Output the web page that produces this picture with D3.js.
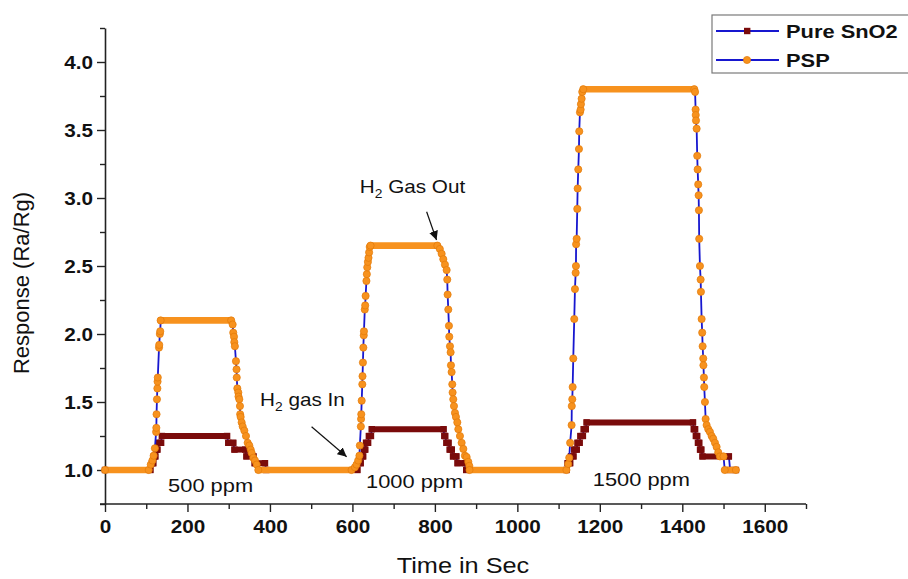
<!DOCTYPE html>
<html>
<head>
<meta charset="utf-8">
<script src="https://cdn.jsdelivr.net/npm/d3@7"></script>
<style>
  body { margin: 0; background: #fff; }
  text { font-family: "Liberation Sans", Arial, sans-serif; fill: #111; }
</style>
</head>
<body>
<svg id="chart" width="908" height="579"></svg>
<script>
// Gas response (Ra/Rg) of pure SnO2 and PSP sensors over three H2 exposure cycles

// Pure SnO2 response (stepped, 0.05 resolution)
const pureTime = [0, 110, 114, 117, 119, 122, 124, 127, 129, 136, 138, 296, 299, 311, 314, 340, 343, 360, 363, 388, 391, 612,
  614, 620, 622, 626, 628, 631, 633, 638, 640, 645, 647, 821, 823, 825, 828, 833, 836, 841, 844, 852, 855, 872, 876, 1119,
  1122, 1128, 1130, 1136, 1138, 1144, 1146, 1151, 1153, 1159, 1161, 1166, 1168, 1426, 1428, 1431, 1433, 1436, 1438, 1441,
  1443, 1446, 1449, 1513, 1516, 1530];
const pureResp = [1.00, 1.00, 1.05, 1.05, 1.10, 1.10, 1.15, 1.15, 1.20, 1.20, 1.25, 1.25, 1.20, 1.20, 1.15, 1.15, 1.10, 1.10, 1.05, 1.05, 1.00, 1.00,
  1.05, 1.05, 1.10, 1.10, 1.15, 1.15, 1.20, 1.20, 1.25, 1.25, 1.30, 1.30, 1.25, 1.25, 1.20, 1.20, 1.15, 1.15, 1.10, 1.10, 1.05, 1.05, 1.00, 1.00,
  1.05, 1.05, 1.10, 1.10, 1.15, 1.15, 1.20, 1.20, 1.25, 1.25, 1.30, 1.30, 1.35, 1.35, 1.30, 1.30, 1.25, 1.25, 1.20, 1.20,
  1.15, 1.15, 1.10, 1.10, 1.00, 1.00];

// PSP response
const pspTime = [0, 106, 111, 115, 118, 121, 124, 124.5, 125, 126, 127, 127.5, 128, 131, 131.5, 133, 134, 135, 306,
  309.6, 311, 312.8, 313.6, 315, 317.6, 319, 319.5, 320.9, 323.3, 323.8, 325.7, 327.3, 327.8, 329, 331.4, 333.9, 337.9,
  341.9, 346, 350, 353.3, 355.7, 359.7, 363.7, 367.8, 371.8, 598,
  606, 610, 614, 617, 618, 620.5, 621, 621.5, 622.5, 624, 624.5, 625.5, 626.5, 627.5, 628, 630, 631, 632, 634, 635, 636,
  637.5, 639, 640.5, 642, 644, 806,
  812, 816.4, 820.4, 824.4, 828.5, 830, 830.9, 832.5, 834.1, 834.9, 836.6, 838.2, 839, 840.6, 842.2, 843, 844.6, 846.3,
  848.7, 851.1, 854.4, 856.8, 860.8, 864.9, 869, 872.9, 877, 881, 883.5, 884, 1119,
  1123.4, 1125.8, 1128, 1131.6, 1132, 1133.2, 1134.1, 1135.6, 1138, 1139.7, 1141.4, 1142.1, 1142.5, 1143.8, 1145.3, 1146.2,
  1147.7, 1149.4, 1150.1, 1151.8, 1153.5, 1154.2, 1155.9, 1157.4, 1159.8, 1429,
  1431, 1432.3, 1432.6, 1433.2, 1434.8, 1436.2, 1437.2, 1438.6, 1439.6, 1440.3, 1441, 1442.8, 1444.5, 1445.2, 1446.9,
  1448.3, 1449.3, 1450.8, 1451.2, 1452.5, 1453.2, 1454.9, 1456.6, 1459, 1463, 1467, 1471.1, 1475, 1479.2, 1483.2, 1487.2,
  1491.3, 1500, 1503, 1530];
const pspResp = [1.00, 1.00, 1.04, 1.07, 1.105, 1.16, 1.28, 1.31, 1.41, 1.52, 1.60, 1.65, 1.68, 1.90, 1.92, 2.00, 2.02, 2.10, 2.10,
  2.07, 2.01, 1.98, 1.94, 1.91, 1.80, 1.74, 1.68, 1.60, 1.57, 1.54, 1.52, 1.47, 1.41, 1.39, 1.35, 1.32, 1.29,
  1.25, 1.20, 1.18, 1.15, 1.125, 1.09, 1.07, 1.04, 1.00, 1.00,
  1.02, 1.04, 1.07, 1.105, 1.18, 1.32, 1.375, 1.41, 1.51, 1.63, 1.69, 1.79, 1.90, 1.99, 2.02, 2.18, 2.21, 2.28, 2.39, 2.44, 2.49,
  2.53, 2.56, 2.60, 2.64, 2.65, 2.65,
  2.625, 2.59, 2.55, 2.51, 2.47, 2.40, 2.29, 2.18, 2.06, 1.98, 1.91, 1.865, 1.77, 1.72, 1.63, 1.57, 1.52, 1.47,
  1.42, 1.39, 1.35, 1.30, 1.25, 1.20, 1.155, 1.105, 1.095, 1.06, 1.03, 1.00, 1.00,
  1.044, 1.09, 1.20, 1.33, 1.47, 1.52, 1.61, 1.82, 2.11, 2.33, 2.45, 2.50, 2.66, 2.70, 2.92, 3.07,
  3.21, 3.36, 3.49, 3.63, 3.65, 3.69, 3.73, 3.78, 3.80, 3.80,
  3.78, 3.65, 3.61, 3.57, 3.51, 3.31, 3.21, 3.10, 3.02, 2.91, 2.70, 2.50, 2.40, 2.31, 2.11,
  2.01, 1.91, 1.82, 1.77, 1.68, 1.61, 1.50, 1.375, 1.33, 1.30, 1.28, 1.25, 1.23, 1.20, 1.17, 1.13,
  1.10, 1.10, 1.00, 1.00];

const seriesNames = ["Pure SnO2", "PSP"];
const xMajorTicks = [0, 200, 400, 600, 800, 1000, 1200, 1400, 1600];
const xMinorTicks = [100, 300, 500, 700, 900, 1100, 1300, 1500, 1700];
const yMajorTicks = [1.0, 1.5, 2.0, 2.5, 3.0, 3.5, 4.0];
const yMinorTicks = [0.75, 1.25, 1.75, 2.25, 2.75, 3.25, 3.75, 4.25];
const concLabels = ["500 ppm", "1000 ppm", "1500 ppm"];

const STRETCH = 1.15;            // horizontal glyph stretch used for all text
const LINE_BLUE = "#1717cf";
const ORANGE = "#f7921e", ORANGE_EDGE = "#e27a08";
const MAROON = "#7a0b0b";

const svg = d3.select("#chart");
const x = d3.scaleLinear().domain([0, 1700]).range([105, 806]);
const y = d3.scaleLinear().domain([0.75, 4.25]).range([504, 28]);

// ---- axes ----
const axisColor = "#222";
const gx = svg.append("g").attr("transform", `translate(0,${y(0.75)})`);
gx.call(d3.axisBottom(x).tickValues(xMinorTicks).tickSize(5).tickFormat("").tickSizeOuter(0));
gx.append("g").call(d3.axisBottom(x).tickValues(xMajorTicks).tickSize(8).tickFormat(d3.format("d")).tickSizeOuter(0))
  .call(g => g.select(".domain").remove());
gx.selectAll("path.domain").attr("stroke", axisColor).attr("stroke-width", 1.6)
  .attr("d", `M${x(0) - 5},0H${x(1700)}`);
gx.selectAll("line").attr("stroke", axisColor).attr("stroke-width", 1.4);
gx.selectAll("text").attr("font-size", 18).attr("font-weight", "bold").attr("fill", "#111")
  .attr("dy", null).attr("y", 0)
  .attr("transform", `translate(0,29) scale(${STRETCH},1)`);

const gy = svg.append("g").attr("transform", `translate(${x(0)},0)`);
gy.call(d3.axisLeft(y).tickValues(yMinorTicks).tickSize(5).tickFormat("").tickSizeOuter(0));
gy.append("g").call(d3.axisLeft(y).tickValues(yMajorTicks).tickSize(8).tickFormat(d3.format(".1f")).tickSizeOuter(0))
  .call(g => g.select(".domain").remove());
gy.selectAll("path.domain").attr("stroke", axisColor).attr("stroke-width", 1.6);
gy.selectAll("line").attr("stroke", axisColor).attr("stroke-width", 1.4);
gy.selectAll("text").attr("font-size", 18).attr("font-weight", "bold").attr("fill", "#111")
  .attr("dy", "0.36em").attr("x", 0)
  .attr("transform", `translate(-12,0) scale(${STRETCH},1)`);

// axis titles
svg.append("text").attr("font-size", 22).attr("text-anchor", "middle")
  .attr("transform", `translate(463,573) scale(${STRETCH},1)`).text("Time in Sec");
svg.append("text").attr("font-size", 22).attr("text-anchor", "middle")
  .attr("transform", `translate(29,283) rotate(-90)`).text("Response (Ra/Rg)");

// ---- series ----
function pointsOf(ts, vs) { return ts.map((t, i) => ({ t, v: vs[i] })); }
function flatRuns(pts) {
  const runs = [];
  for (let i = 1; i < pts.length; i++) if (pts[i].v === pts[i - 1].v) runs.push([pts[i - 1], pts[i]]);
  return runs;
}
const line = d3.line().x(d => x(d.t)).y(d => y(d.v));

function drawSeries(pts, opt) {
  const g = svg.append("g");
  // connecting line
  g.append("path").datum(pts).attr("d", line).attr("fill", "none")
    .attr("stroke", LINE_BLUE).attr("stroke-width", 1.8);
  // densely sampled flat stretches: overlapping symbols merge into a solid bar
  g.selectAll("line.run").data(flatRuns(pts)).join("line")
    .attr("x1", d => x(d[0].t)).attr("x2", d => x(d[1].t))
    .attr("y1", d => y(d[0].v)).attr("y2", d => y(d[1].v))
    .attr("stroke", opt.fill).attr("stroke-width", opt.bar)
    .attr("stroke-linecap", opt.shape === "circle" ? "round" : "square");
  // symbols
  if (opt.shape === "circle") {
    g.selectAll("circle").data(pts).join("circle")
      .attr("cx", d => x(d.t)).attr("cy", d => y(d.v)).attr("r", opt.size / 2)
      .attr("fill", opt.fill).attr("stroke", opt.edge).attr("stroke-width", 0.7);
  } else {
    g.selectAll("rect").data(pts).join("rect")
      .attr("x", d => x(d.t) - opt.size / 2).attr("y", d => y(d.v) - opt.size / 2)
      .attr("width", opt.size).attr("height", opt.size).attr("fill", opt.fill);
  }
}

drawSeries(pointsOf(pureTime, pureResp), { shape: "square", fill: MAROON, size: 6.4, bar: 6 });
drawSeries(pointsOf(pspTime, pspResp), { shape: "circle", fill: ORANGE, edge: ORANGE_EDGE, size: 7.2, bar: 6.6 });

// ---- annotations ----
const concAt = [[153, 0.838], [633, 0.868], [1183, 0.886]];
concLabels.forEach((s, i) => {
  svg.append("text").attr("font-size", 19)
    .attr("transform", `translate(${x(concAt[i][0])},${y(concAt[i][1])}) scale(${STRETCH},1)`).text(s);
});

svg.append("defs").append("marker").attr("id", "arrowhead")
  .attr("viewBox", "0 0 10 10").attr("refX", 10).attr("refY", 5)
  .attr("markerWidth", 9).attr("markerHeight", 9).attr("markerUnits", "userSpaceOnUse")
  .attr("orient", "auto")
  .append("path").attr("d", "M0,0L10,5L0,10Z").attr("fill", "#111");

function h2Label(t, v, rest) {
  const txt = svg.append("text").attr("font-size", 18)
    .attr("transform", `translate(${x(t)},${y(v)}) scale(${STRETCH},1)`);
  txt.append("tspan").text("H");
  txt.append("tspan").attr("font-size", 12).attr("dy", 5).text("2");
  txt.append("tspan").attr("dy", -5).text(" " + rest);
}
function arrow(t0, v0, t1, v1) {
  svg.append("line").attr("x1", x(t0)).attr("y1", y(v0)).attr("x2", x(t1)).attr("y2", y(v1))
    .attr("stroke", "#111").attr("stroke-width", 1.2).attr("marker-end", "url(#arrowhead)");
}
h2Label(376, 1.47, "gas In");
arrow(501, 1.318, 586, 1.098);
h2Label(618, 3.037, "Gas Out");
arrow(780, 2.899, 804, 2.691);

// ---- legend ----
const lg = svg.append("g").attr("transform", "translate(712,15)");
lg.append("rect").attr("width", 210).attr("height", 58).attr("fill", "#fff")
  .attr("stroke", "#7a7a7a").attr("stroke-width", 1.2);
const rowY = [16, 45];
seriesNames.forEach((name, i) => {
  const r = lg.append("g").attr("transform", `translate(0,${rowY[i]})`);
  r.append("line").attr("x1", 4).attr("x2", 67).attr("stroke", LINE_BLUE).attr("stroke-width", 2);
  if (i === 0) r.append("rect").attr("x", 32).attr("y", -3.2).attr("width", 6.4).attr("height", 6.4).attr("fill", MAROON);
  else r.append("circle").attr("cx", 35).attr("r", 3.6).attr("fill", ORANGE).attr("stroke", ORANGE_EDGE).attr("stroke-width", 0.7);
  r.append("text").attr("font-size", 19).attr("font-weight", "bold").attr("dy", "0.36em")
    .attr("transform", `translate(74,0) scale(${STRETCH},1)`).text(name);
});
</script>
</body>
</html>
